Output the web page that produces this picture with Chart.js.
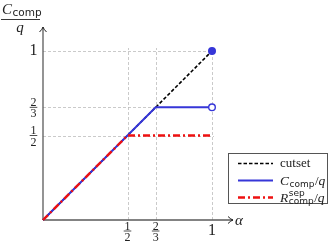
<!DOCTYPE html>
<html><head><meta charset="utf-8">
<script src="https://cdn.jsdelivr.net/npm/chart.js@4"></script>
<style>html,body{margin:0;padding:0;background:#fff}canvas{display:block}</style>
</head><body>
<canvas id="c" width="332" height="245"></canvas>
<script>
// ---- data ----
const cutsetX = [0, 1];
const cutsetY = [0, 1];
const compX = [0, 2/3, 1];
const compY = [0, 2/3, 2/3];
const sepX = [0, 1/2, 1];
const sepY = [0, 1/2, 1/2];
const markerX = [1, 1];
const markerY = [1, 2/3];
const xTicks = [1/2, 2/3, 1];
const xTickLabels = ['1/2', '2/3', '1'];
const yTicks = [1/2, 2/3, 1];
const yTickLabels = ['1/2', '2/3', '1'];
const seriesLabels = ['cutset', 'Ccomp/q', 'Rsep/q'];

const BLUE = '#3636d8', RED = '#ee1111', AXIS = '#5a5a5a';
const pts = (xs, ys) => xs.map((x, i) => ({x, y: ys[i]}));
const SERIF = '"Liberation Serif", "DejaVu Serif", serif';
const SANS = '"DejaVu Sans", sans-serif';

function drawFrac(ctx, label, cx, cy, size, bigSize) {
  const parts = label.split('/');
  ctx.fillStyle = '#222';
  ctx.textAlign = 'center';
  if (parts.length === 1) {
    ctx.font = bigSize + 'px ' + SERIF;
    ctx.textBaseline = 'middle';
    ctx.fillText(parts[0], cx, cy);
    return;
  }
  ctx.font = size + 'px ' + SERIF;
  ctx.textBaseline = 'alphabetic';
  ctx.fillText(parts[0], cx, cy - 1.5);
  ctx.textBaseline = 'top';
  ctx.fillText(parts[1], cx, cy + 1);
  ctx.strokeStyle = '#222'; ctx.lineWidth = 0.8; ctx.setLineDash([]);
  ctx.beginPath(); ctx.moveTo(cx - 3.8, cy); ctx.lineTo(cx + 3.8, cy); ctx.stroke();
}

function arrowHead(ctx, x, y, dir) {
  ctx.beginPath();
  if (dir === 'up') {
    ctx.moveTo(x - 3.5, y + 5); ctx.quadraticCurveTo(x - 0.5, y + 2, x, y);
    ctx.quadraticCurveTo(x + 0.5, y + 2, x + 3.5, y + 5);
  } else {
    ctx.moveTo(x - 5, y - 3.5); ctx.quadraticCurveTo(x - 2, y - 0.5, x, y);
    ctx.quadraticCurveTo(x - 2, y + 0.5, x - 5, y + 3.5);
  }
  ctx.stroke();
}

function drawPieces(ctx, x, y, pieces) {
  ctx.textAlign = 'left'; ctx.textBaseline = 'alphabetic'; ctx.fillStyle = '#222';
  for (const p of pieces) {
    ctx.font = p.font;
    ctx.fillText(p.t, x + (p.dx || 0), y + (p.dy || 0));
    if (!p.noAdvance) x += ctx.measureText(p.t).width + (p.dx || 0);
  }
  return x;
}

const decor = {
  id: 'decor',
  beforeDatasetsDraw(chart) {
    const {ctx, scales: {x: xs, y: ys}} = chart;
    const x0 = xs.getPixelForValue(0), x1 = xs.getPixelForValue(1);
    const y0 = ys.getPixelForValue(0), y1 = ys.getPixelForValue(1);
    ctx.save();
    // grid
    ctx.strokeStyle = '#bdbdbd'; ctx.lineWidth = 0.8; ctx.setLineDash([3, 2]);
    for (const t of xTicks) {
      const px = Math.round(xs.getPixelForValue(t)) + 0.5;
      ctx.beginPath(); ctx.moveTo(px, y0); ctx.lineTo(px, y1 - 3); ctx.stroke();
    }
    for (const t of yTicks) {
      const py = Math.round(ys.getPixelForValue(t)) + 0.5;
      ctx.beginPath(); ctx.moveTo(x0, py); ctx.lineTo(x1 + 2, py); ctx.stroke();
    }
    // axes
    ctx.setLineDash([]); ctx.strokeStyle = AXIS; ctx.lineWidth = 1.3;
    ctx.beginPath(); ctx.moveTo(x0, y0); ctx.lineTo(x0, 27); ctx.stroke();
    ctx.beginPath(); ctx.moveTo(x0, y0); ctx.lineTo(233, y0); ctx.stroke();
    ctx.strokeStyle = '#222'; ctx.lineWidth = 1;
    arrowHead(ctx, x0, 27, 'up');
    arrowHead(ctx, 233, y0, 'right');
    // tick labels
    xTicks.forEach((t, i) => drawFrac(ctx, xTickLabels[i], xs.getPixelForValue(t), 231, 12, 16));
    yTicks.forEach((t, i) => drawFrac(ctx, yTickLabels[i], 33.5, ys.getPixelForValue(t), 12, 16));
    // axis titles
    ctx.fillStyle = '#222'; ctx.textAlign = 'left'; ctx.textBaseline = 'alphabetic';
    ctx.font = 'italic 15px ' + SERIF; ctx.fillText('α', 235, 225);
    drawPieces(ctx, 2, 14, [
      {t: 'C', font: 'italic 15px ' + SERIF},
      {t: 'comp', font: '10.5px ' + SANS, dy: 2, dx: 0.5}
    ]);
    ctx.strokeStyle = '#222'; ctx.lineWidth = 0.9;
    ctx.beginPath(); ctx.moveTo(1, 19.5); ctx.lineTo(40, 19.5); ctx.stroke();
    ctx.font = 'italic 15px ' + SERIF; ctx.textAlign = 'center';
    ctx.fillText('q', 20, 32);
    ctx.restore();
  },
  afterDatasetsDraw(chart) {
    const {ctx} = chart;
    ctx.save();
    // legend box
    ctx.fillStyle = '#fff'; ctx.fillRect(228, 153, 100, 51);
    ctx.strokeStyle = '#555'; ctx.lineWidth = 1; ctx.setLineDash([]);
    ctx.strokeRect(228.5, 153.5, 99, 50);
    const rows = [163.5, 180.5, 197.5];
    const ds = chart.data.datasets;
    const styles = [ds[0], ds[1], ds[2]];
    styles.forEach((d, i) => {
      ctx.strokeStyle = d.borderColor; ctx.lineWidth = d.borderWidth;
      ctx.setLineDash(d.borderDash || []);
      ctx.beginPath(); ctx.moveTo(238, rows[i]); ctx.lineTo(273, rows[i]); ctx.stroke();
    });
    ctx.setLineDash([]);
    const it = 'italic 13.5px ' + SERIF, rm = '13px ' + SERIF, sub = '9px ' + SANS;
    drawPieces(ctx, 280, rows[0] + 3.5, [{t: 'cutset', font: rm}]);
    drawPieces(ctx, 280, rows[1] + 4, [
      {t: 'C', font: it}, {t: 'comp', font: sub, dy: 2, dx: 0.5}, {t: '/', font: rm, dx: 0.5}, {t: 'q', font: it}
    ]);
    drawPieces(ctx, 280, rows[2] + 4, [
      {t: 'R', font: it}, {t: 'sep', font: sub, dy: -5.5, dx: 0.5, noAdvance: true},
      {t: 'comp', font: sub, dy: 2, dx: 0.5}, {t: '/', font: rm, dx: 0.5}, {t: 'q', font: it}
    ]);
    ctx.restore();
  }
};

new Chart(document.getElementById('c'), {
  type: 'line',
  data: {
    datasets: [
      {label: seriesLabels[0], data: pts(cutsetX, cutsetY), borderColor: '#000', borderWidth: 1.6,
       borderDash: [3.5, 2], pointRadius: 0, order: 3, clip: false},
      {label: seriesLabels[1], data: pts(compX, compY), borderColor: BLUE, borderWidth: 2,
       pointRadius: 0, order: 2, clip: false},
      {label: seriesLabels[2], data: pts(sepX, sepY), borderColor: RED, borderWidth: 2.4,
       borderDash: [7, 3, 2, 3], pointRadius: 0, order: 1, clip: false},
      {label: 'ends', data: pts(markerX, markerY), showLine: false, pointRadius: 3.3,
       pointBorderWidth: 1.4, pointBorderColor: BLUE, pointBackgroundColor: [BLUE, '#fff'],
       order: 0, clip: false}
    ]
  },
  options: {
    responsive: false, animation: false,
    layout: {padding: {left: 43, right: 120, top: 51, bottom: 25}},
    scales: {
      x: {type: 'linear', min: 0, max: 1, display: false},
      y: {type: 'linear', min: 0, max: 1, display: false}
    },
    plugins: {legend: {display: false}, tooltip: {enabled: false}}
  },
  plugins: [decor]
});
</script>
</body></html>
